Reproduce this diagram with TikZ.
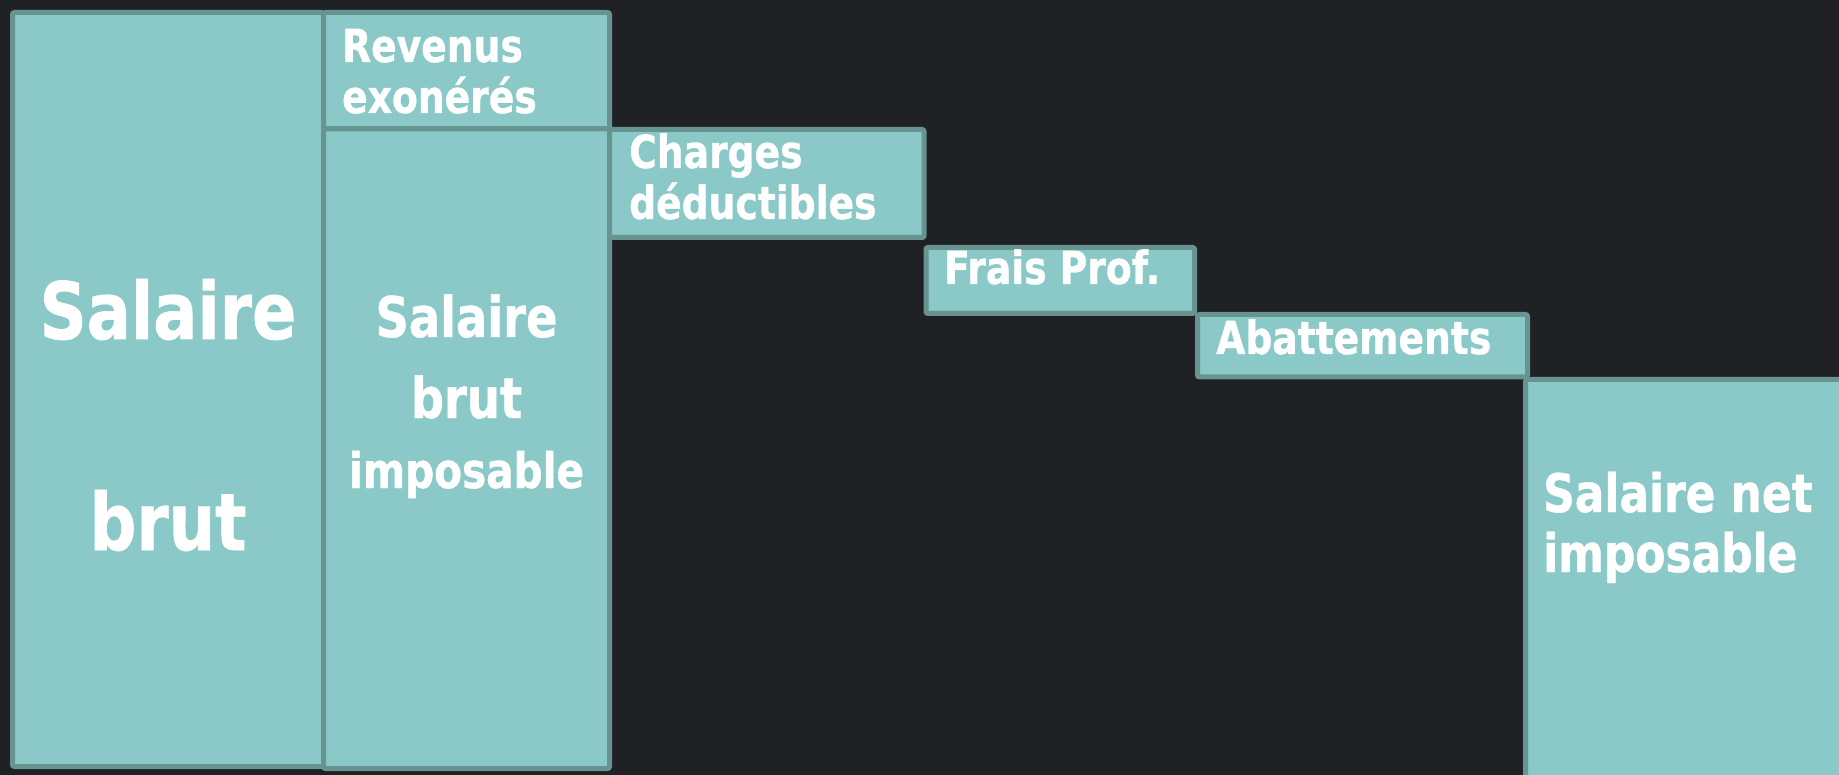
\documentclass[tikz,border=0pt]{standalone}
\usepackage{fontspec}
\newfontfamily\dfont{DejaVu Sans Condensed Bold}[FakeStretch=0.92,FakeBold=0.8]
\definecolor{bg}{HTML}{202125}
\definecolor{boxfill}{HTML}{8AC9C7}
\definecolor{edge}{HTML}{679491}
\begin{document}
\begin{tikzpicture}[x=1pt,y=-1pt,
  box/.style={draw=edge, fill=boxfill, line width=5pt, rounded corners=2pt, inner sep=0pt},
  lbl/.style={text=white, inner sep=0pt},
  big/.style={lbl, font=\dfont\fontsize{79}{86}\selectfont, anchor=base},
  mid/.style={lbl, font=\dfont\fontsize{56}{64}\selectfont, anchor=base},
  small/.style={lbl, font=\dfont\fontsize{45.5}{54}\selectfont, anchor=base west},
  net/.style={lbl, font=\dfont\fontsize{53}{62}\selectfont, anchor=base west}]
\fill[bg] (0,0) rectangle (1839,775);
\useasboundingbox (0,0) rectangle (1839,775);
% boxes
\node[box, minimum width=311pt, minimum height=754pt] (brut) at (168,389.5) {};
\node[box, minimum width=286pt, minimum height=116.5pt] (rev) at (466.5,70.75) {};
\node[box, minimum width=286pt, minimum height=639.5pt] (sbi) at (466.5,448.75) {};
\node[box, minimum width=314.5pt, minimum height=108pt] (chg) at (766.75,183.5) {};
\node[box, minimum width=268.5pt, minimum height=66pt] (frais) at (1060.25,280.5) {};
\node[box, minimum width=330pt, minimum height=62.5pt] (abat) at (1362.5,345.75) {};
\node[box, minimum width=334.5pt, minimum height=420.5pt] (net) at (1692.75,589.75) {};
% texts
\node[big] (t1) at (168,339) {Salaire};
\node[big] (t2) at (168,550) {brut};
\node[small] (t3) at (342,62) {Revenus};
\node[small] (t4) at (342,113) {exonérés};
\node[mid] (t5) at (466.5,337) {Salaire};
\node[mid] (t6) at (466.5,418) {brut};
\node[mid, font=\dfont\fontsize{49}{56}\selectfont] (t7) at (466.5,488) {imposable};
\node[small] (t8) at (629,168) {Charges};
\node[small] (t9) at (629,219) {déductibles};
\node[small] (t10) at (944,284) {Frais Prof.};
\node[small] (t11) at (1216,354) {Abattements};
\node[net] (t12) at (1543,512) {Salaire net};
\node[net] (t13) at (1543,572) {imposable};
\end{tikzpicture}
\end{document}
